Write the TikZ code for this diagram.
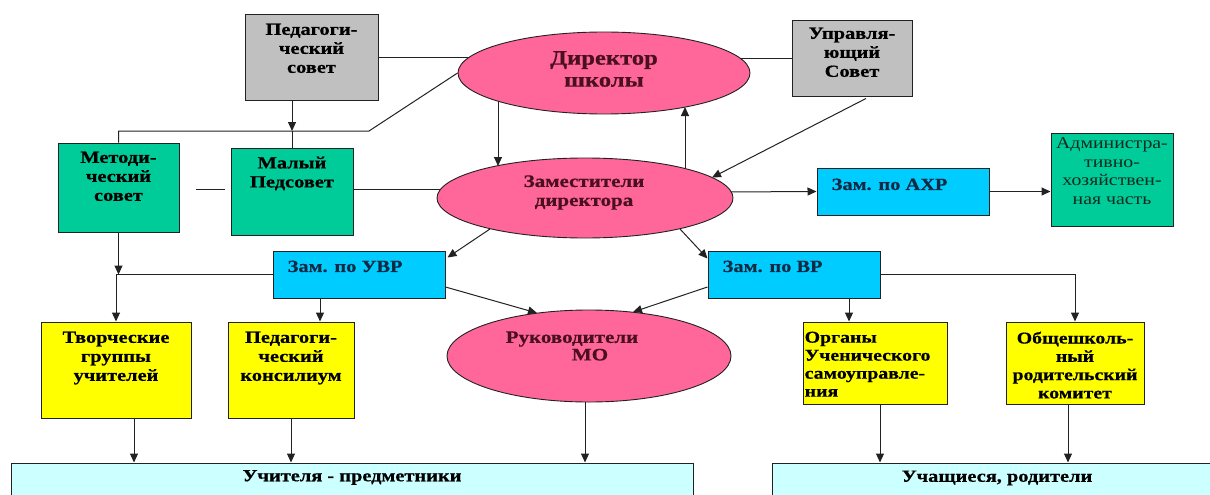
\documentclass[tikz,border=0pt]{standalone}
\usepackage{fontspec}
\setmainfont{Liberation Serif}[FakeStretch=1.2, BoldFeatures={FakeBold=0.6}]
\usetikzlibrary{shapes.geometric,calc,arrows.meta}
\definecolor{grayc}{HTML}{C0C0C0}
\definecolor{greenc}{HTML}{00CC99}
\definecolor{pinkc}{HTML}{FF6699}
\definecolor{cyanc}{HTML}{00CCFF}
\definecolor{yellowc}{HTML}{FFFF00}
\definecolor{lcyanc}{HTML}{CCFFFF}
\definecolor{elltext}{HTML}{4A1020}
\definecolor{admtext}{HTML}{0F2A1E}
\definecolor{cyantext}{HTML}{0F2A45}
\definecolor{linec}{HTML}{222222}
\pgfdeclarelayer{bg}
\pgfsetlayers{bg,main}
\tikzset{
  box/.style={draw=linec, line width=1pt, inner sep=0pt, rectangle},
  gbox/.style={box, fill=grayc},
  grbox/.style={box, fill=greenc},
  cbox/.style={box, fill=cyanc},
  ybox/.style={box, fill=yellowc},
  lbox/.style={box, fill=lcyanc},
  ell/.style={ellipse, draw=linec, line width=0.9pt, fill=pinkc, inner sep=0pt},
  txt/.style={inner sep=0pt, align=center, font=\fontsize{17}{19}\selectfont\bfseries},
  ctxt/.style={txt, text=cyantext},
  etxt/.style={inner sep=0pt, align=center, text=elltext},
  conn/.style={draw=linec, line width=1pt},
  arr/.style={conn, -{Triangle[length=9pt,width=8pt]}},
}
\begin{document}
\begin{tikzpicture}[x=1pt,y=-1pt]
\useasboundingbox (0,0) rectangle (1210,495);
\begin{pgfonlayer}{bg}
\fill[white] (0,0) rectangle (1210,495);
\end{pgfonlayer}
% boxes
\node[gbox, minimum width=133, minimum height=85] (ped) at (311.5,57.5) {};
\node[txt, anchor=north] (pedt) at ($(ped.north)+(0,9)$) {Педагоги-\\ческий\\совет};
\node[gbox, minimum width=120, minimum height=75] (upr) at (852,58.5) {};
\node[txt, anchor=north] (uprt) at ($(upr.north)+(0,7)$) {Управля-\\ющий\\Совет};
\node[grbox, minimum width=121, minimum height=89] (metod) at (118.5,187.5) {};
\node[txt, anchor=north] (metodt) at ($(metod.north)+(0,9)$) {Методи-\\ческий\\совет};
\node[grbox, minimum width=122, minimum height=87] (maly) at (292,191.5) {};
\node[txt, anchor=north] (malyt) at ($(maly.north)+(0,9)$) {Малый\\Педсовет};
\node[cbox, minimum width=172, minimum height=47] (axr) at (903,191.5) {};
\node[ctxt, anchor=north west] (axrt) at ($(axr.north west)+(15,11)$) {Зам. по АХР};
\node[grbox, minimum width=122, minimum height=93] (adm) at (1112,179.5) {};
\node[inner sep=0pt, align=center, anchor=north, text=admtext, font=\fontsize{16.5}{18.5}\selectfont] (admt) at ($(adm.north)+(0,5)$) {Администра-\\тивно-\\хозяйствен-\\ная часть};
\node[cbox, minimum width=172, minimum height=47] (uvr) at (359,274.5) {};
\node[ctxt, anchor=north west] (uvrt) at ($(uvr.north west)+(15,10)$) {Зам. по УВР};
\node[cbox, minimum width=172, minimum height=47] (vr) at (794,274.5) {};
\node[ctxt, anchor=north west] (vrt) at ($(vr.north west)+(15,10)$) {Зам. по ВР};
\node[ybox, minimum width=150, minimum height=96] (tvor) at (116,370) {};
\node[txt, anchor=north] (tvort) at ($(tvor.north)+(0,10)$) {Творческие\\группы\\учителей};
\node[ybox, minimum width=126, minimum height=96] (pedk) at (291,370) {};
\node[txt, anchor=north] (pedkt) at ($(pedk.north)+(0,10)$) {Педагоги-\\ческий\\консилиум};
\node[ybox, minimum width=144, minimum height=82] (organ) at (875,363) {};
\node[txt, align=left, anchor=north west, font=\fontsize{16.5}{18}\selectfont\bfseries] (organt) at ($(organ.north west)+(2,10)$) {Органы\\Ученического\\самоуправле-\\ния};
\node[ybox, minimum width=138, minimum height=82] (obsh) at (1075,363) {};
\node[txt, anchor=north, font=\fontsize{16.5}{18.3}\selectfont\bfseries] (obsht) at ($(obsh.north)+(0,10)$) {Общешколь-\\ный\\родительский\\комитет};
\node[lbox, minimum width=682, minimum height=47] (uch) at (352,486.5) {};
\node[txt] (ucht) at ($(uch.north)+(0,15)$) {Учителя - предметники};
\node[lbox, minimum width=460, minimum height=47] (uchsh) at (1002,486.5) {};
\node[txt] (uchsht) at (997,478) {Учащиеся, родители};
% ellipses
\node[ell, minimum width=292, minimum height=82] (dir) at (604,73) {};
\node[etxt, font=\fontsize{20.5}{22}\selectfont\bfseries] (dirt) at (604,69) {Директор\\школы};
\node[ell, minimum width=296, minimum height=80] (zam) at (585,198) {};
\node[etxt, font=\fontsize{17.5}{19}\selectfont\bfseries] (zamt) at (584,192.5) {Заместители\\директора};
\node[ell, minimum width=284, minimum height=92] (ruk) at (589,356) {};
\node[etxt, font=\fontsize{17.5}{17.5}\selectfont\bfseries] (rukt) at (572,346) {Руководители\\\hspace*{36pt}МО};
% helper coordinates
\coordinate (mj) at (369,131);
\coordinate (uvrb) at ($(uvr.south)+(-39,0)$);
\coordinate (tb) at ($(tvor.south)+(18,0)$);
\coordinate (vrb) at ($(vr.south)+(55,0)$);
\coordinate (orb) at ($(organ.south)+(5,0)$);
\coordinate (obb) at ($(obsh.south)+(-7,0)$);
\coordinate (rkb) at ($(ruk.south)+(-4,0)$);
\coordinate (uprb) at ($(upr.south)+(14,2)$);
\coordinate (seg1) at ($(metod.east)+(16,1.5)$);
\coordinate (seg2) at ($(metod.east)+(45,1.5)$);
% connectors
\begin{pgfonlayer}{bg}
\draw[conn] (ped.east) -- (ped.east -| dir.center);
\draw[conn] (upr.west) -- (upr.west -| dir.center);
\draw[conn] (metod.north) |- (mj) -- (dir.west);
\draw[arr] (ped.south -| maly.north) -- (maly.north |- mj);
\draw[conn] (maly.north |- mj) -- (maly.north);
\draw[conn] (seg1) -- (seg2);
\draw[conn] ($(maly.east)+(0,-2.5)$) -- ($(zam)+(-144,-9)$);
\draw[arr] ($(dir)+(-106,0)$) -- ($(zam)+(-87,-32)$);
\draw[arr] ($(zam)+(100,0)$) -- ($(dir)+(81,34)$);
\draw[arr] (uprb) -- ($(zam)+(127,-20.5)$);
\draw[arr] ($(zam)+(140,-6)$) -- (axr.west);
\draw[arr] (axr.east) -- (axr.east -| adm.west);
\draw[arr] ($(zam)+(-95,31)$) -- ($(uvr.north east)+(2,7)$);
\draw[arr] ($(zam)+(95,31)$) -- ($(vr.north west)+(0,8)$);
\draw[arr] ($(uvr.east)+(0,12.5)$) -- ($(ruk)+(-52,-43)$);
\draw[arr] ($(vr.west)+(0,12.5)$) -- ($(ruk)+(44,-44)$);
\draw[arr] (rkb) -- (rkb |- uch.north);
\draw[arr] (metod.south) -- (metod.south |- uvr.west);
\draw[arr] (uvr.west) -| (tvor.north);
\draw[arr] (uvrb) -- (uvrb |- pedk.north);
\draw[arr] (tb) -- (tb |- uch.north);
\draw[arr] (pedk.south) -- (pedk.south |- uch.north);
\draw[arr] (vrb) -- (vrb |- organ.north);
\draw[arr] (vr.east) -| (obsh.north);
\draw[arr] (orb) -- (orb |- uchsh.north);
\draw[arr] (obb) -- (obb |- uchsh.north);
\end{pgfonlayer}
\end{tikzpicture}
\end{document}
